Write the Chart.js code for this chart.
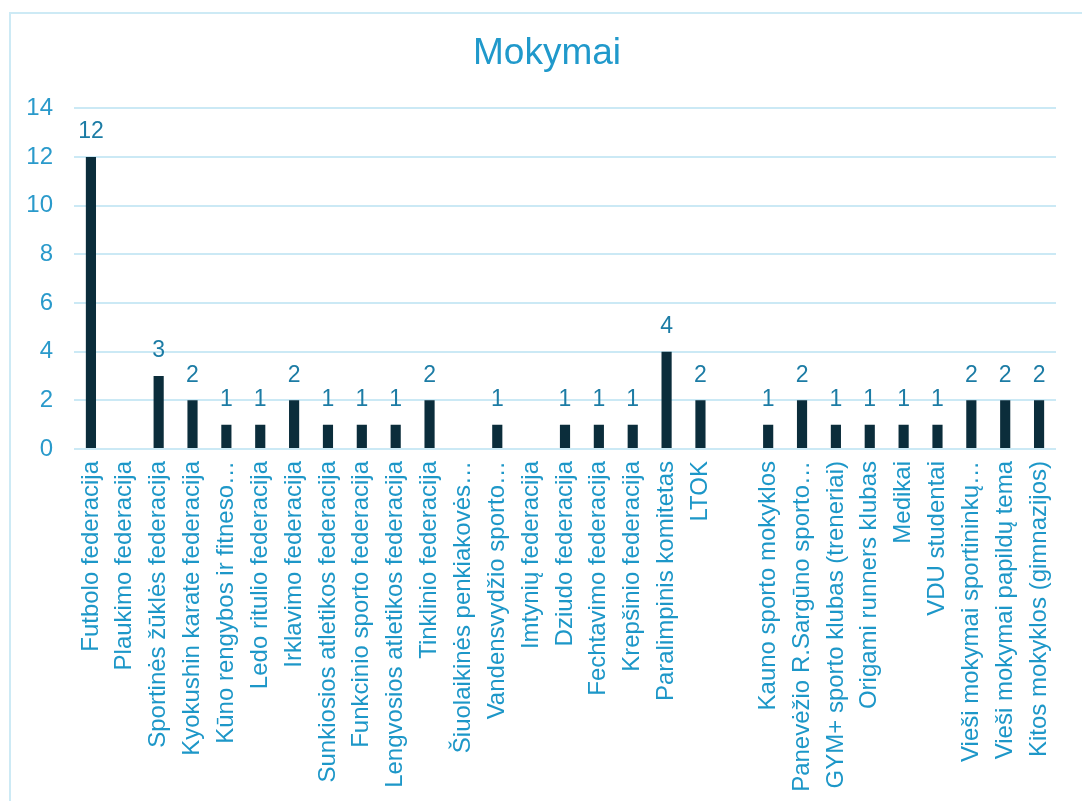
<!DOCTYPE html>
<html>
<head>
<meta charset="utf-8">
<script src="https://cdn.jsdelivr.net/npm/chart.js@4"></script>
<style>
  html,body{margin:0;padding:0;background:#fff;overflow:hidden}
  #frame{position:absolute;left:9px;top:12px;width:1100px;height:820px;border-left:2px solid #cdeaf5;border-top:2px solid #cdeaf5}
  #wrap{position:absolute;left:0;top:0;width:1082px;height:801px}
</style>
</head>
<body>
<div id="frame"></div>
<div id="wrap"><canvas id="chartMokymai"></canvas></div>
<script>
/* Mokymai - stulpelinė diagrama */
const kategorijos = ['Futbolo federacija','Plaukimo federacija','Sportinės žūklės federacija','Kyokushin karate federacija',
  'Kūno rengybos ir fitneso…','Ledo ritulio federacija','Irklavimo federacija','Sunkiosios atletikos federacija',
  'Funkcinio sporto federacija','Lengvosios atletikos federacija','Tinklinio federacija','Šiuolaikinės penkiakovės…',
  'Vandensvydžio sporto…','Imtynių federacija','Dziudo federacija','Fechtavimo federacija','Krepšinio federacija',
  'Paralimpinis komitetas','LTOK','','Kauno sporto mokyklos','Panevėžio R.Sargūno sporto…','GYM+ sporto klubas (treneriai)',
  'Origami runners klubas','Medikai','VDU studentai','Vieši mokymai sportininkų…','Vieši mokymai papildų tema','Kitos mokyklos (gimnazijos)'];
const mokymai = [12,0,3,2,1,1,2,1,1,1,2,0,1,0,1,1,1,4,2,0,1,2,1,1,1,1,2,2,2];
const yTicks = [0,2,4,6,8,10,12,14];

(function(){
  'use strict';
  const P = {bar:'#0b2d3b', tick:'#2a9acb', label:'#1d97c8', value:'#1c7ca5', title:'#2099cb', grid:'#cbe9f5'};
  const FONT = 'Liberation Sans, Arial, sans-serif';
  Chart.defaults.font.family = FONT;

  // reikšmės virš stulpelių
  const reiksmes = {id:'reiksmes', afterDatasetsDraw(chart){
    const ctx = chart.ctx, meta = chart.getDatasetMeta(0);
    ctx.save();
    ctx.fillStyle = P.value; ctx.font = '23px ' + FONT;
    ctx.textAlign = 'center'; ctx.textBaseline = 'middle';
    meta.data.forEach((b,i)=>{ const v = mokymai[i]; if(v) ctx.fillText(String(v), b.x, b.y - 25); });
    ctx.restore();
  }};

  new Chart(document.getElementById('chartMokymai'), {type:'bar', data:{
    labels: kategorijos,
    datasets:[{label:'Mokymai', data: mokymai, backgroundColor:P.bar, borderWidth:0, categoryPercentage:1, barPercentage:0.3}]},
    options:{responsive:true, maintainAspectRatio:false, animation:false,
      layout:{padding:{top:12, right:0, bottom:0, left:12}},
      plugins:{legend:{display:false}, tooltip:{enabled:false},
        title:{display:true, text:'Mokymai', color:P.title, font:{size:37, weight:'normal'}, padding:{top:20, bottom:32}}},
      scales:{
        x:{grid:{display:false, drawTicks:false}, border:{display:false},
          ticks:{color:P.label, font:{size:24}, autoSkip:false, minRotation:90, maxRotation:90, padding:12},
          afterFit:s=>{ s.height = 352; s.paddingRight = 26; }},
        y:{min:0, max:14, grid:{color:P.grid, lineWidth:2, drawTicks:false}, border:{display:false},
          afterBuildTicks:s=>{ s.ticks = yTicks.map(v=>({value:v})); },
          ticks:{color:P.tick, font:{size:24}, padding:21},
          afterFit:s=>{ s.width = 62; }}
      }},
    plugins:[reiksmes]});
})();
</script>
</body>
</html>
